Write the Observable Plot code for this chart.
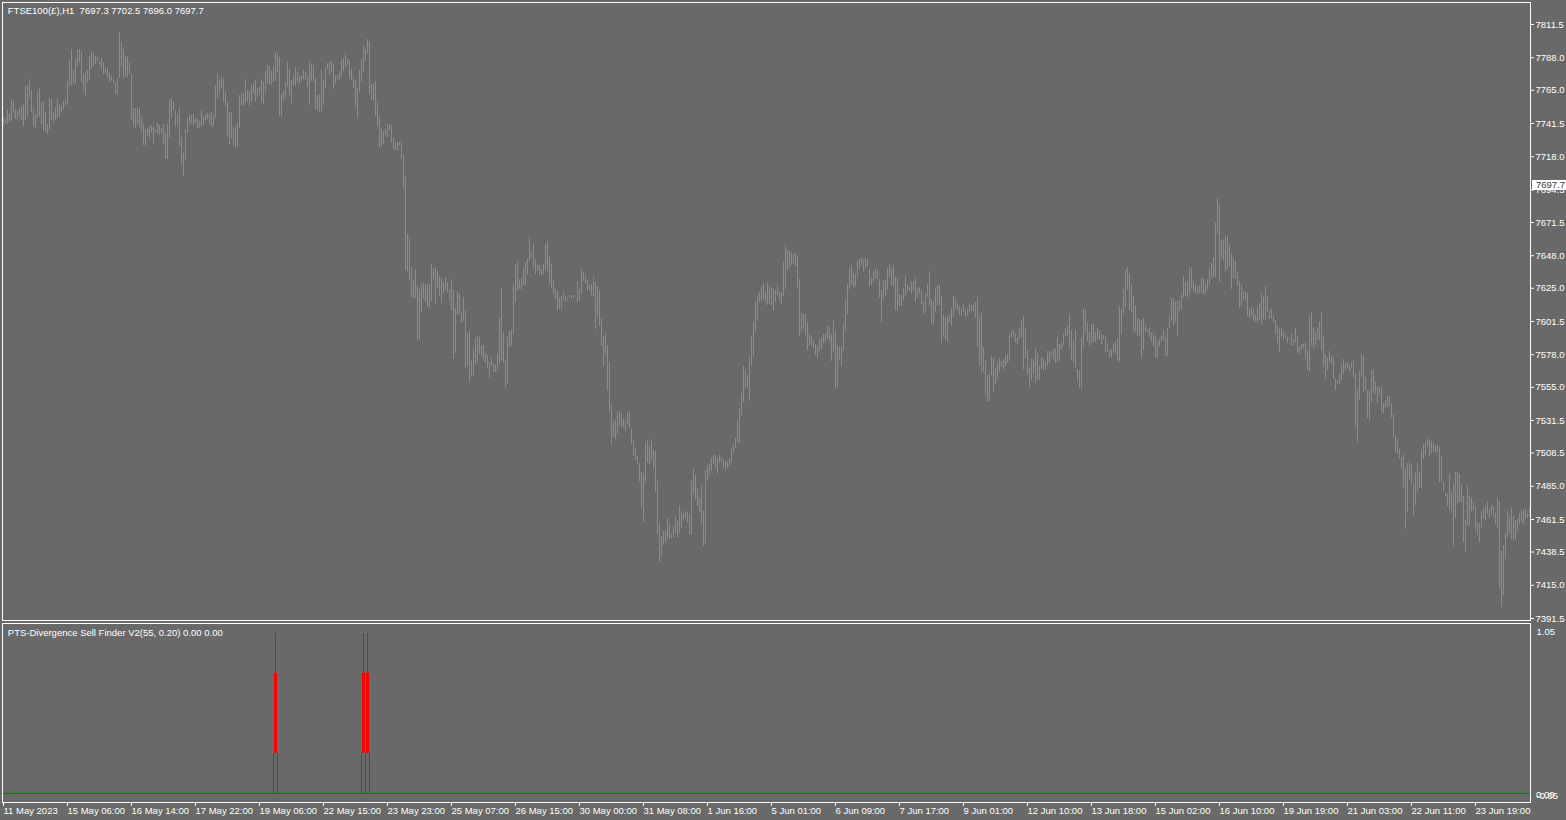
<!DOCTYPE html>
<html>
<head>
<meta charset="utf-8">
<script src="https://cdn.jsdelivr.net/npm/d3@7"></script>
<script src="https://cdn.jsdelivr.net/npm/@observablehq/plot@0.6"></script>
<style>
html, body { margin: 0; padding: 0; background: #696969; }
#chart { position: relative; width: 1566px; height: 820px; }
#chart svg { display: block; }
#last-price {
  position: absolute; left: 1532px; width: 34px; height: 10px; box-sizing: border-box;
  padding-left: 4px; background: #ffffff; color: #333333;
  font-family: 'Liberation Sans', Arial, sans-serif; font-size: 9.5px; line-height: 10px; white-space: pre;
}
</style>
</head>
<body>
<div id="chart"></div>
<script>
// ---------- texts ----------
const symbolTitle = "FTSE100(£),H1  7697.3 7702.5 7696.0 7697.7";
const indicatorTitle = "PTS-Divergence Sell Finder V2(55, 0.20) 0.00 0.00";
const lastPrice = 7697.7;

// ---------- axis ticks ----------
const priceTicks = [7811.5, 7788.0, 7765.0, 7741.5, 7718.0, 7694.5, 7671.5, 7648.0, 7625.0, 7601.5,
  7578.0, 7555.0, 7531.5, 7508.5, 7485.0, 7461.5, 7438.5, 7415.0, 7391.5];
const timeTickStep = 32; // one label every 32 hourly bars
const timeLabels = ["11 May 2023", "15 May 06:00", "16 May 14:00", "17 May 22:00", "19 May 06:00",
  "22 May 15:00", "23 May 23:00", "25 May 07:00", "26 May 15:00", "30 May 00:00", "31 May 08:00",
  "1 Jun 16:00", "5 Jun 01:00", "6 Jun 09:00", "7 Jun 17:00", "9 Jun 01:00", "12 Jun 10:00",
  "13 Jun 18:00", "15 Jun 02:00", "16 Jun 10:00", "19 Jun 19:00", "21 Jun 03:00", "22 Jun 11:00",
  "23 Jun 19:00"];
const indicatorTickValues = [1.05, 0, -0.05];

// ---------- hourly bars: highs ----------
const highs = [
7746.0,7744.3,7750.7,7747.9,7757.8,7757.1,7751.4,7750.0,7751.9,7753.1,
7754.9,7767.7,7767.7,7772.6,7764.8,7752.8,7747.9,7764.1,7766.3,7756.1,
7756.4,7749.3,7740.8,7759.2,7758.7,7749.0,7752.8,7759.2,7754.9,7753.5,
7757.1,7758.2,7771.2,7786.1,7793.8,7779.0,7786.8,7793.1,7793.8,7791.7,
7775.9,7777.8,7779.0,7788.9,7792.4,7791.2,7788.9,7788.4,7785.3,7787.2,
7784.2,7781.1,7780.2,7777.1,7775.2,7772.6,7770.5,7773.3,7805.9,7798.3,
7793.8,7788.9,7788.2,7784.4,7776.6,7752.3,7751.9,7752.8,7751.9,7745.3,
7741.0,7737.0,7738.2,7738.9,7740.1,7738.9,7736.3,7741.5,7740.1,7737.7,
7741.0,7734.9,7741.0,7757.8,7759.4,7756.6,7750.5,7747.4,7752.8,7731.4,
7720.3,7737.3,7745.7,7747.2,7747.2,7748.1,7744.8,7744.3,7743.2,7750.7,
7746.0,7747.2,7748.6,7748.1,7749.3,7747.2,7768.4,7776.6,7771.4,7774.7,
7773.1,7763.4,7756.4,7749.0,7749.0,7738.2,7738.9,7741.7,7761.3,7763.0,
7763.0,7772.6,7764.4,7764.1,7768.4,7769.3,7771.9,
7766.5,7767.2,7772.6,7770.7,7777.8,7782.5,7781.8,7778.5,7781.3,7791.7,
7790.3,7788.1,7762.0,7764.8,7770.0,7785.3,7779.9,7771.9,7775.4,7781.1,
7777.5,7774.7,7774.9,7779.0,7778.2,7774.2,7784.6,7783.2,7782.5,7773.3,
7761.3,7762.0,7779.0,7771.9,7781.1,7783.9,7784.6,7785.3,7783.4,7775.4,
7775.4,7777.8,7786.0,7787.7,7791.0,7787.2,7786.0,7779.9,7774.2,7771.9,
7766.7,7779.0,7786.7,7795.9,7794.3,7800.9,7799.0,7769.1,7769.1,7771.2,
7757.0,7745.7,7738.2,7735.8,7737.2,7740.8,7740.8,7740.1,7730.9,7727.6,
7728.0,7728.0,7728.7,7718.8,7704.0,7663.0,7660.9,7639.7,7630.9,7638.2,
7626.2,7624.1,7627.6,7629.0,7627.2,7627.9,7627.9,7641.8,7638.7,7639.2,
7636.8,7632.8,7631.9,7629.3,7632.6,7629.0,7624.1,7631.2,7623.4,7610.7,
7622.7,7620.8,7608.5,7618.4,7609.2,7593.2,7594.6,7573.9,7581.7,7589.7,
7591.1,7590.4,7584.5,7584.5,7579.1,7577.4,7572.7,7576.0,7571.8,7570.8,
7578.6,7603.6,7624.8,7593.2,7574.6,7590.2,7594.4,7595.8,
7627.6,7641.1,7643.2,7631.2,7631.9,7639.2,7643.2,7645.8,7660.9,7651.0,
7655.9,7645.1,7641.1,7641.1,7638.2,7641.8,7655.9,7658.0,7646.5,7641.8,
7630.9,7624.6,7622.7,7618.2,7619.4,7622.0,7619.4,7618.2,7619.8,7619.8,
7619.4,7619.8,7629.3,7624.6,7638.2,7635.6,7634.0,7630.4,7626.9,7627.6,
7632.8,7629.3,7626.2,7622.9,7603.8,7590.4,7592.3,7584.0,7572.0,7542.1,
7531.0,7531.9,7537.3,7537.8,7536.2,7532.2,7530.7,7536.6,7537.8,7525.6,
7517.3,7512.4,7506.0,7501.3,7494.9,7493.7,7515.4,7517.3,7513.3,7518.0,
7510.9,7509.8,7488.6,7458.6,7449.0,7453.0,7453.0,7462.4,7458.9,7450.8,
7456.5,7463.8,7460.7,7471.3,7466.6,7465.9,7467.1,7466.6,7464.7,7488.6,
7497.7,7492.6,7483.1,7476.5,7484.8,7467.3,7496.1,7499.6,7500.8,7504.6,
7506.7,7506.7,7504.4,7507.2,7504.8,7503.2,7502.5,7502.0,7503.9,7511.4,
7513.3,7519.0,7531.5,7539.9,7550.5,7569.9,7566.3,7563.3,7575.5,7590.4,
7601.0,7615.1,7619.8,7622.0,7625.7,7628.6,7622.2,7628.6,
7626.9,7625.1,7624.6,7623.4,7626.9,7622.2,7621.8,7643.9,7655.2,7651.7,
7651.0,7650.0,7649.3,7649.3,7647.5,7631.2,7607.4,7606.9,7606.4,7600.1,
7592.8,7590.9,7588.1,7585.2,7583.8,7588.5,7589.9,7592.3,7593.0,7598.7,
7597.0,7592.3,7602.2,7594.4,7584.5,7583.1,7582.9,7600.1,7617.0,7628.1,
7639.2,7641.1,7635.7,7635.2,7643.9,7645.8,7646.5,7645.1,7646.3,7645.3,
7638.3,7632.4,7636.8,7638.3,7637.6,7631.2,7623.4,7629.8,7631.2,7638.5,
7642.3,7638.7,7641.1,7632.8,7631.7,7620.6,7619.9,7624.6,7633.3,7627.0,
7625.8,7629.3,7630.0,7632.4,7624.6,7625.8,7622.9,7615.2,7621.1,7628.1,
7636.8,7617.0,7615.2,7624.6,7627.0,7627.0,7619.9,7605.7,7604.1,7605.0,
7605.7,7610.9,7619.2,7617.0,7614.0,7612.3,7610.4,7613.3,7609.7,7610.4,
7613.7,7612.8,7613.5,7614.7,7618.5,7604.6,7607.6,7583.1,7573.4,7563.3,
7564.2,7577.4,7576.0,7568.5,7572.7,7575.1,7573.2,7574.6,7577.4,7578.6,
7591.6,7593.9,7595.1,7592.8,7590.2,7596.3,7602.2,7604.6,
7596.3,7581.0,7569.2,7575.1,7574.6,7582.4,7579.3,7569.9,7576.2,7575.1,
7572.2,7580.3,7580.3,7579.3,7582.1,7582.1,7590.4,7585.2,7586.4,7592.7,
7596.5,7597.9,7606.4,7595.1,7588.0,7595.1,7567.5,7566.8,7590.4,7610.4,
7609.7,7600.3,7593.5,7599.1,7599.3,7593.9,7596.5,7594.6,7592.3,7591.6,
7590.4,7585.7,7581.0,7581.9,7585.2,7586.9,7589.7,7611.6,7610.4,7624.6,
7637.5,7639.4,7635.2,7627.4,7619.4,7612.8,7603.6,7602.9,7602.2,7603.4,
7598.6,7595.6,7596.8,7593.5,7593.5,7591.3,7586.4,7588.5,7590.9,7595.1,
7590.4,7596.8,7604.5,7617.5,7618.0,7615.1,7615.6,7615.8,7620.6,7633.3,
7629.3,7630.0,7639.4,7639.4,7629.8,7627.4,7625.7,7626.5,7631.6,7631.6,
7628.1,7630.9,7638.7,7642.7,7646.3,7671.2,7688.2,7683.5,7658.7,7659.2,
7662.3,7661.6,7655.9,7649.3,7645.8,7643.9,7636.8,7629.8,7627.4,7622.7,
7622.2,7621.7,7610.4,7611.6,7610.0,7605.7,7611.1,7614.0,7621.0,7618.7,
7626.0,7619.1,7608.8,7610.4,7605.0,7602.2,7597.9,7596.3,
7596.8,7594.4,7591.6,7590.4,7589.2,7592.3,7588.8,7596.8,7590.9,7583.3,
7585.2,7585.7,7586.4,7581.0,7604.1,7608.1,7596.8,7593.9,7597.0,7601.0,
7608.1,7591.6,7578.2,7576.3,7580.3,7576.7,7575.6,7560.9,7559.8,7564.0,
7570.4,7574.6,7572.0,7572.7,7570.4,7572.7,7573.4,7563.8,7552.7,7565.7,
7578.2,7576.7,7562.1,7552.7,7552.7,7566.4,7567.5,7558.6,7555.1,7554.6,
7554.3,7543.7,7545.6,7548.5,7548.0,7542.8,7535.7,7520.2,7518.0,7511.4,
7505.1,7507.9,7497.8,7501.3,7502.5,7499.7,7486.7,7494.5,7501.3,7494.2,
7510.3,7514.5,7515.5,7519.2,7517.3,7516.6,7515.7,7513.8,7513.8,7512.6,
7506.3,7487.9,7480.3,7479.6,7493.3,7480.3,7486.7,7494.9,7494.5,7493.3,
7486.2,7477.7,7460.8,7485.5,7478.5,7476.6,7473.7,7470.2,7459.1,7458.4,
7466.7,7468.6,7471.4,7474.2,7468.6,7471.4,7470.7,7466.2,7476.6,7474.2,
7439.6,7443.1,7451.8,7467.1,7464.3,7469.5,7463.6,7460.8,7462.0,7466.0,
7467.8,7467.8,7468.6,7465.5,7469.0
];

// ---------- hourly bars: lows ----------
const lows = [
7738.9,7741.3,7740.8,7742.4,7743.2,7748.8,7744.1,7744.1,7746.0,7743.6,
7739.6,7743.2,7746.0,7759.4,7749.0,7738.9,7737.5,7745.5,7746.0,7740.1,
7736.3,7735.4,7733.7,7736.6,7743.6,7742.4,7744.1,7744.8,7746.0,7749.0,
7751.4,7754.2,7754.7,7767.7,7768.4,7769.3,7769.6,7782.0,7784.4,7770.3,
7763.7,7760.8,7770.0,7771.9,7779.7,7781.6,7783.2,7785.3,7782.5,7779.5,
7776.2,7776.6,7773.8,7770.7,7771.7,7769.6,7762.5,7761.3,7773.6,7781.3,
7773.6,7774.3,7773.8,7776.2,7743.6,7739.4,7737.7,7741.3,7738.9,7735.8,
7725.9,7725.5,7732.3,7730.7,7734.9,7726.7,7734.7,7734.2,7733.0,7733.7,
7726.7,7716.0,7716.0,7730.7,7745.3,7750.7,7738.9,7740.1,7725.5,7711.8,
7704.3,7715.3,7734.7,7740.1,7741.3,7740.1,7741.7,7737.7,7738.4,7739.6,
7740.1,7743.2,7744.3,7740.6,7738.9,7738.9,7745.3,7759.4,7762.5,7766.0,
7756.6,7753.5,7731.8,7726.4,7730.7,7725.7,7723.6,7724.8,7738.2,7754.2,
7753.5,7755.4,7756.6,7753.8,7756.1,7762.5,7756.6,
7760.1,7762.5,7756.6,7754.9,7762.9,7769.1,7768.8,7768.3,7771.2,7771.4,
7777.3,7746.0,7746.4,7757.3,7759.9,7767.2,7761.3,7755.6,7768.3,7767.6,
7770.7,7769.1,7771.4,7772.6,7772.4,7766.5,7754.2,7771.2,7770.7,7751.4,
7750.2,7748.8,7749.5,7754.2,7765.5,7779.7,7775.4,7777.8,7765.5,7769.1,
7772.4,7771.4,7774.2,7778.2,7780.8,7782.5,7773.1,7771.9,7766.5,7753.0,
7745.2,7763.6,7770.7,7777.8,7785.6,7790.7,7762.0,7757.7,7757.3,7746.0,
7739.6,7724.0,7725.4,7726.6,7733.0,7731.8,7736.5,7727.6,7723.1,7722.4,
7722.4,7725.4,7716.0,7694.8,7637.5,7636.4,7629.8,7618.2,7618.0,7617.5,
7588.0,7588.7,7607.4,7617.5,7615.1,7611.6,7610.9,7615.6,7630.5,7613.7,
7625.3,7619.4,7614.2,7620.6,7623.4,7621.7,7615.8,7609.2,7574.6,7579.1,
7605.7,7606.4,7600.1,7601.5,7568.5,7569.9,7558.6,7562.8,7562.1,7570.4,
7572.0,7578.1,7576.7,7573.4,7572.0,7568.5,7561.4,7569.2,7565.6,7565.2,
7566.1,7571.5,7573.2,7572.2,7554.3,7557.4,7583.3,7584.0,
7592.3,7615.1,7622.7,7624.1,7623.4,7626.9,7626.9,7634.5,7644.1,7646.5,
7639.9,7634.5,7637.0,7634.0,7634.0,7634.7,7637.5,7635.9,7628.1,7624.6,
7620.3,7616.8,7608.8,7609.9,7609.9,7615.8,7615.1,7615.8,7618.2,7617.5,
7618.2,7618.7,7615.1,7615.8,7620.5,7630.0,7628.1,7623.4,7622.9,7619.4,
7618.7,7595.8,7604.0,7597.9,7584.0,7569.9,7578.1,7552.2,7537.3,7513.8,
7519.7,7518.0,7521.6,7527.9,7526.3,7526.3,7523.9,7528.6,7525.6,7514.5,
7506.0,7503.2,7499.6,7488.3,7469.5,7459.6,7487.8,7501.5,7500.3,7503.2,
7496.8,7480.1,7450.8,7431.3,7434.8,7443.1,7444.7,7447.1,7447.8,7448.0,
7448.5,7451.3,7448.5,7451.8,7455.3,7460.3,7461.9,7458.9,7450.6,7450.8,
7479.1,7475.4,7470.9,7465.9,7458.9,7442.6,7444.2,7488.6,7493.3,7495.6,
7500.8,7497.3,7493.7,7501.3,7501.3,7497.7,7496.1,7497.7,7498.5,7501.3,
7508.4,7511.9,7515.7,7515.0,7534.5,7544.4,7553.8,7554.6,7544.9,7570.3,
7576.7,7593.9,7602.2,7614.7,7615.6,7617.5,7614.4,7612.8,
7613.5,7612.8,7609.3,7615.2,7619.9,7615.6,7613.5,7619.2,7624.1,7637.1,
7639.2,7641.1,7641.6,7640.4,7625.5,7591.1,7593.9,7595.8,7591.1,7581.0,
7584.5,7584.0,7582.6,7577.4,7575.8,7580.3,7581.7,7585.9,7586.4,7589.2,
7586.9,7573.2,7579.8,7553.4,7554.6,7573.4,7569.7,7580.5,7595.1,7606.4,
7624.1,7627.0,7625.1,7625.8,7632.8,7638.3,7641.1,7636.4,7638.7,7639.9,
7625.8,7627.0,7629.3,7631.7,7631.2,7618.0,7600.3,7617.0,7619.4,7623.4,
7632.1,7627.0,7625.8,7608.8,7608.8,7612.1,7612.3,7616.3,7618.7,7621.8,
7622.7,7620.6,7623.4,7615.2,7618.0,7621.1,7613.3,7606.4,7608.1,7618.7,
7612.1,7599.4,7598.7,7607.6,7612.8,7612.8,7585.7,7590.4,7588.1,7586.9,
7600.5,7598.0,7605.0,7610.4,7609.3,7605.7,7605.3,7608.1,7604.1,7605.3,
7608.1,7608.6,7607.6,7603.8,7583.3,7569.9,7565.2,7565.0,7549.2,7544.4,
7544.4,7563.3,7551.5,7556.9,7560.9,7565.7,7569.2,7566.4,7569.2,7572.3,
7573.2,7589.7,7590.4,7586.2,7585.2,7588.8,7589.7,7567.5,
7575.1,7563.8,7554.6,7559.3,7563.8,7557.4,7560.5,7559.8,7567.5,7566.4,
7567.3,7569.9,7571.5,7576.2,7573.9,7572.0,7572.0,7573.4,7581.7,7584.5,
7590.4,7591.1,7582.9,7573.4,7572.2,7568.7,7559.0,7554.6,7553.4,7583.3,
7593.2,7586.9,7584.0,7586.4,7586.4,7586.9,7588.7,7588.0,7585.0,7588.5,
7579.8,7579.8,7576.2,7575.8,7579.1,7578.6,7573.4,7572.7,7592.7,7606.9,
7611.6,7623.4,7609.2,7607.6,7594.4,7593.9,7591.1,7591.6,7575.5,7581.0,
7593.9,7593.2,7590.4,7586.9,7583.3,7575.5,7575.5,7583.3,7586.9,7588.0,
7577.0,7577.0,7596.3,7601.7,7598.6,7601.0,7591.1,7608.1,7609.2,7618.0,
7619.1,7618.2,7620.6,7624.6,7622.2,7621.0,7620.3,7621.0,7621.5,7619.9,
7621.0,7623.4,7627.4,7632.3,7632.1,7632.3,7663.0,7629.3,7646.5,7644.1,
7636.4,7638.0,7640.6,7624.1,7631.6,7631.6,7626.9,7611.1,7611.6,7616.3,
7615.6,7605.2,7604.1,7605.2,7601.7,7601.0,7601.0,7602.2,7599.3,7602.9,
7601.7,7608.1,7602.9,7603.4,7600.3,7592.7,7586.2,7579.8,
7590.4,7588.5,7589.7,7586.2,7588.5,7584.5,7583.8,7586.2,7579.1,7578.2,
7581.5,7582.2,7574.6,7566.8,7565.7,7584.5,7582.2,7584.5,7588.1,7587.6,
7581.0,7569.2,7560.5,7566.8,7572.7,7570.8,7560.5,7552.7,7556.9,7556.9,
7559.8,7564.0,7567.3,7568.0,7565.7,7568.0,7561.7,7526.8,7516.2,7545.6,
7561.7,7551.0,7552.0,7533.1,7531.0,7544.4,7551.0,7549.9,7542.8,7549.2,
7537.4,7536.2,7539.7,7540.4,7541.6,7533.4,7519.0,7508.4,7507.9,7503.9,
7496.8,7483.6,7454.4,7466.0,7489.8,7486.0,7463.8,7471.4,7480.8,7483.6,
7483.6,7503.9,7506.7,7512.6,7505.6,7507.9,7509.1,7508.6,7507.9,7487.4,
7487.9,7481.5,7477.3,7470.9,7467.8,7466.2,7442.6,7462.4,7472.6,7473.3,
7473.3,7445.5,7438.4,7456.8,7456.8,7467.1,7467.4,7453.2,7450.2,7445.5,
7455.6,7462.0,7460.8,7465.5,7462.0,7464.8,7462.7,7458.4,7454.9,7412.9,
7399.5,7407.7,7433.2,7448.5,7450.6,7447.1,7446.6,7447.3,7453.2,7457.9,
7459.1,7457.7,7461.2,7462.4,7463.6
];

// ---------- indicator (PTS-Divergence Sell Finder) ----------
const edgeBars = [135, 137, 179, 181, 183];
const edgeValue = 0.25;
const signalBars = [136, 180, 182];
const signalBody = [0.25, 0.75];
const signalTop = 1.0;

// ---------- build ----------
const W = 1566;
const font = "'Liberation Sans', Arial, sans-serif";
const bars = highs.map((h, i) => ({i, high: h, low: lows[i]}));
const xDomain = [-0.75, 763.25];
const baseStyle = {background: "#696969", color: "#ffffff", fontFamily: font, fontSize: "9.5px", whiteSpace: "pre", overflow: "visible"};

const main = Plot.plot({
  width: W, height: 622,
  marginTop: 2, marginBottom: 2, marginLeft: 2, marginRight: 36,
  style: baseStyle,
  x: {type: "linear", domain: xDomain, axis: null},
  y: {type: "linear", domain: [7390.09, 7827.06], axis: null},
  marks: [
    Plot.ruleX(bars, {x: "i", y1: "low", y2: "high", stroke: "#32cd32", strokeWidth: 1, dx: -0.5}),
    Plot.frame({stroke: "#ffffff"}),
    Plot.axisY(priceTicks, {anchor: "right", tickSize: 3, tickPadding: 2, tickFormat: d => d.toFixed(1), label: null}),
    Plot.text([symbolTitle], {frameAnchor: "top-left", dx: 5.3, dy: 8.7, lineAnchor: "middle", textAnchor: "start", fill: "#ffffff"})
  ]
});

const ind = Plot.plot({
  width: W, height: 198,
  marginTop: 1, marginBottom: 18, marginLeft: 2, marginRight: 36,
  style: baseStyle,
  x: {type: "linear", domain: xDomain, axis: null},
  y: {type: "linear", domain: [-0.05625, 1.0625], axis: null},
  marks: [
    Plot.ruleX(edgeBars, {x: d => d, y1: 0, y2: edgeValue, stroke: "#ff0000", strokeWidth: 1, dx: -0.5}),
    Plot.ruleX(signalBars, {x: d => d, y1: signalBody[0], y2: signalTop, stroke: "#ff0000", strokeWidth: 1, dx: -0.5}),
    Plot.ruleX(signalBars, {x: d => d, y1: signalBody[0], y2: signalBody[1], stroke: "#ff0000", strokeWidth: 3, dx: -0.5}),
    Plot.ruleY([0], {stroke: "#008000", strokeWidth: 1}),
    Plot.frame({stroke: "#ffffff"}),
    Plot.axisX(timeLabels.map((_, k) => k * timeTickStep), {
      anchor: "bottom", tickSize: 4, tickPadding: 1, textAnchor: "start", dx: -0.5, label: null,
      tickFormat: d => timeLabels[Math.round(d / timeTickStep)]
    }),
    Plot.text([indicatorTickValues[0]], {y: d => d, text: d => d.toFixed(2), frameAnchor: "right", dx: 6, dy: 6, textAnchor: "start", fill: "#ffffff"}),
    Plot.text([indicatorTickValues[1]], {y: d => d, text: d => d.toFixed(2), frameAnchor: "right", dx: 5.5, dy: 1, textAnchor: "start", fill: "#ffffff"}),
    Plot.text([indicatorTickValues[2]], {y: d => d, text: d => d.toFixed(2), frameAnchor: "right", dx: 6, dy: -5.5, textAnchor: "start", fill: "#ffffff"}),
    Plot.text([indicatorTitle], {frameAnchor: "top-left", dx: 5.3, dy: 9.7, lineAnchor: "middle", textAnchor: "start", fill: "#ffffff"})
  ]
});

const host = document.getElementById("chart");
host.append(main, ind);

// current-price label in a white box, placed through the chart's own y scale
const ySc = main.scale("y");
const yOf = typeof ySc.apply === "function" ? ySc.apply : d3.scaleLinear().domain(ySc.domain).range(ySc.range);
const label = document.createElement("div");
label.id = "last-price";
label.textContent = lastPrice.toFixed(1);
label.style.top = (yOf(lastPrice) - 4.7) + "px";
host.append(label);
</script>
</body>
</html>
